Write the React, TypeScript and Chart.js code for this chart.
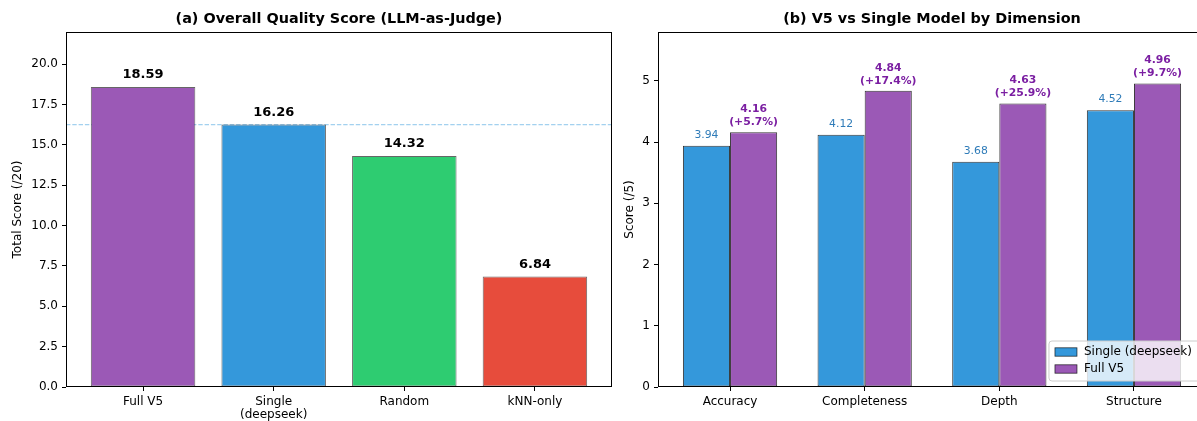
import React, { useEffect, useRef } from "react";
import { Chart, registerables } from "chart.js";

Chart.register(...registerables);
Chart.defaults.font.family = "'DejaVu Sans', 'Liberation Sans', sans-serif";
Chart.defaults.color = "#000";

// ---------- data ----------
const overallCategories: string[][] = [["Full V5"], ["Single", "(deepseek)"], ["Random"], ["kNN-only"]];
const overallScores = [18.59, 16.26, 14.32, 6.84];
const overallColors = ["#9b59b6", "#3498db", "#2ecc71", "#e74c3c"];
const overallTicks = [0, 2.5, 5, 7.5, 10, 12.5, 15, 17.5, 20];
const singleReference = 16.26;

const dimensions = ["Accuracy", "Completeness", "Depth", "Structure"];
const singleScores = [3.94, 4.12, 3.68, 4.52];
const fullScores = [4.16, 4.84, 4.63, 4.96];
const gainLabels = ["(+5.7%)", "(+17.4%)", "(+25.9%)", "(+9.7%)"];
const dimTicks = [0, 1, 2, 3, 4, 5];

const FONT = "'DejaVu Sans', 'Liberation Sans', sans-serif";

const framePlugin = {
  id: "frame",
  afterDatasetsDraw(chart: any) {
    const { ctx, chartArea: a } = chart;
    ctx.save();
    ctx.strokeStyle = "#000";
    ctx.lineWidth = 1;
    ctx.strokeRect(Math.round(a.left) + 0.5, Math.round(a.top) + 0.5, Math.round(a.right - a.left) - 1, Math.round(a.bottom - a.top) - 1);
    ctx.restore();
  },
};

function axisCommon(tickFontSize: number) {
  return {
    offset: false,
    grid: { offset: false, drawOnChartArea: false, drawTicks: true, tickLength: 4, color: "#000", lineWidth: 1 },
    border: { display: false },
    ticks: { font: { size: tickFontSize, family: FONT }, color: "#000", padding: 4 },
  };
}

export default function App() {
  const leftRef = useRef<HTMLCanvasElement>(null);
  const rightRef = useRef<HTMLCanvasElement>(null);

  useEffect(() => {
    const refLinePlugin = {
      id: "refLine",
      beforeDatasetsDraw(chart: any) {
        const { ctx, chartArea: a, scales } = chart;
        const y = scales.y.getPixelForValue(singleReference);
        ctx.save();
        ctx.strokeStyle = "rgba(52,152,219,0.45)";
        ctx.lineWidth = 1.1;
        ctx.setLineDash([4.4, 1.9]);
        ctx.beginPath();
        ctx.moveTo(a.left, y);
        ctx.lineTo(a.right, y);
        ctx.stroke();
        ctx.restore();
      },
    };
    const leftLabels = {
      id: "leftLabels",
      afterDatasetsDraw(chart: any) {
        const { ctx } = chart;
        const meta = chart.getDatasetMeta(0);
        ctx.save();
        ctx.font = `bold 13px ${FONT}`;
        ctx.fillStyle = "#000";
        ctx.textAlign = "center";
        ctx.textBaseline = "middle";
        meta.data.forEach((el: any, i: number) => {
          ctx.fillText(overallScores[i].toFixed(2), el.x, el.y - 12);
        });
        ctx.restore();
      },
    };

    const left = new Chart(leftRef.current!, {
      type: "bar",
      data: {
        datasets: [
          {
            label: "Total Score",
            data: overallScores.map((v, i) => ({ x: i, y: v })),
            backgroundColor: overallColors,
            borderColor: "rgba(0,0,0,0.6)",
            borderWidth: 1,
            borderSkipped: false,
            barPercentage: 0.8,
            categoryPercentage: 1,
          },
        ],
      },
      options: {
        responsive: false,
        animation: false,
        layout: { padding: { left: 0, right: 18, top: 0, bottom: 0 } },
        plugins: {
          legend: { display: false },
          tooltip: { enabled: false },
          title: {
            display: true,
            text: "(a) Overall Quality Score (LLM-as-Judge)",
            fullSize: false,
            font: { size: 14.4, weight: "bold", family: FONT },
            color: "#000",
            padding: { top: 10.4, bottom: 4.3 },
          },
        },
        scales: {
          x: {
            type: "linear",
            min: -0.59,
            max: 3.59,
            ...axisCommon(12),
            ticks: {
              ...axisCommon(12).ticks,
              font: { size: 12, family: FONT, lineHeight: 1.1 },
              autoSkip: false,
              maxRotation: 0,
              callback: (v: any) => overallCategories[v as number],
            },
            afterBuildTicks: (s: any) => {
              s.ticks = overallCategories.map((_, i) => ({ value: i }));
            },
            afterFit: (s: any) => {
              s.height = 34;
            },
          },
          y: {
            type: "linear",
            min: 0,
            max: 22,
            ...axisCommon(12),
            ticks: {
              ...axisCommon(12).ticks,
              includeBounds: false,
              callback: (v: any) => Number(v).toFixed(1),
            },
            afterBuildTicks: (s: any) => {
              s.ticks = overallTicks.map((v) => ({ value: v }));
            },
            title: {
              display: true,
              text: "Total Score (/20)",
              font: { size: 12, family: FONT },
              color: "#000",
              padding: { top: 10.8, bottom: 0 },
            },
            afterFit: (s: any) => {
              s.width = 66;
            },
          },
        },
      } as any,
      plugins: [refLinePlugin, leftLabels, framePlugin],
    });

    const rightLabels = {
      id: "rightLabels",
      afterDatasetsDraw(chart: any) {
        const { ctx } = chart;
        const m0 = chart.getDatasetMeta(0);
        const m1 = chart.getDatasetMeta(1);
        ctx.save();
        ctx.textAlign = "center";
        ctx.textBaseline = "middle";
        ctx.font = `10.8px ${FONT}`;
        ctx.fillStyle = "#2e7bb8";
        m0.data.forEach((el: any, i: number) => {
          ctx.fillText(singleScores[i].toFixed(2), el.x, el.y - 11);
        });
        ctx.font = `bold 10.8px ${FONT}`;
        ctx.fillStyle = "#7b1fa2";
        m1.data.forEach((el: any, i: number) => {
          ctx.fillText(fullScores[i].toFixed(2), el.x, el.y - 23);
          ctx.fillText(gainLabels[i], el.x, el.y - 10);
        });
        ctx.restore();
      },
    };
    const legendPlugin = {
      id: "boxLegend",
      afterDraw(chart: any) {
        const { ctx, chartArea: a } = chart;
        const ds = chart.data.datasets;
        ctx.save();
        ctx.font = `12px ${FONT}`;
        const textW = Math.max(...ds.map((d: any) => ctx.measureText(d.label).width));
        const padL = 6, handle = 22, gap = 7, padR = 8;
        const w = padL + handle + gap + textW + padR;
        const h = 40;
        const right = a.right - 6;
        const bottom = a.bottom - 6;
        const x0 = right - w;
        const y0 = bottom - h;
        const r = 3;
        ctx.beginPath();
        ctx.moveTo(x0 + r, y0);
        ctx.lineTo(x0 + w - r, y0);
        ctx.arcTo(x0 + w, y0, x0 + w, y0 + r, r);
        ctx.lineTo(x0 + w, y0 + h - r);
        ctx.arcTo(x0 + w, y0 + h, x0 + w - r, y0 + h, r);
        ctx.lineTo(x0 + r, y0 + h);
        ctx.arcTo(x0, y0 + h, x0, y0 + h - r, r);
        ctx.lineTo(x0, y0 + r);
        ctx.arcTo(x0, y0, x0 + r, y0, r);
        ctx.closePath();
        ctx.fillStyle = "rgba(255,255,255,0.8)";
        ctx.fill();
        ctx.strokeStyle = "#cccccc";
        ctx.lineWidth = 1;
        ctx.stroke();
        ds.forEach((d: any, i: number) => {
          const cy = y0 + 11 + i * 17;
          ctx.fillStyle = d.backgroundColor;
          ctx.fillRect(x0 + padL, cy - 4.2, handle, 8.4);
          ctx.strokeStyle = "rgba(0,0,0,0.75)";
          ctx.lineWidth = 0.8;
          ctx.strokeRect(x0 + padL, cy - 4.2, handle, 8.4);
          ctx.fillStyle = "#000";
          ctx.textAlign = "left";
          ctx.textBaseline = "middle";
          ctx.fillText(d.label, x0 + padL + handle + gap, cy);
        });
        ctx.restore();
      },
    };

    const right = new Chart(rightRef.current!, {
      type: "bar",
      data: {
        datasets: [
          {
            label: "Single (deepseek)",
            data: singleScores.map((v, i) => ({ x: i, y: v })),
            backgroundColor: "#3498db",
            borderColor: "rgba(0,0,0,0.8)",
            borderWidth: 1,
            borderSkipped: false,
            barPercentage: 1,
            categoryPercentage: 0.7,
          },
          {
            label: "Full V5",
            data: fullScores.map((v, i) => ({ x: i, y: v })),
            backgroundColor: "#9b59b6",
            borderColor: "rgba(0,0,0,0.8)",
            borderWidth: 1,
            borderSkipped: false,
            barPercentage: 1,
            categoryPercentage: 0.7,
          },
        ],
      },
      options: {
        responsive: false,
        animation: false,
        layout: { padding: { left: 0, right: 14, top: 0, bottom: 0 } },
        plugins: {
          legend: { display: false },
          tooltip: { enabled: false },
          title: {
            display: true,
            text: "(b) V5 vs Single Model by Dimension",
            fullSize: false,
            font: { size: 14.4, weight: "bold", family: FONT },
            color: "#000",
            padding: { top: 10.4, bottom: 4.3 },
          },
        },
        scales: {
          x: {
            type: "linear",
            min: -0.535,
            max: 3.535,
            ...axisCommon(12),
            ticks: {
              ...axisCommon(12).ticks,
              autoSkip: false,
              maxRotation: 0,
              callback: (v: any) => dimensions[v as number],
            },
            afterBuildTicks: (s: any) => {
              s.ticks = dimensions.map((_, i) => ({ value: i }));
            },
            afterFit: (s: any) => {
              s.height = 34;
            },
          },
          y: {
            type: "linear",
            min: 0,
            max: 5.8,
            ...axisCommon(12),
            ticks: {
              ...axisCommon(12).ticks,
              includeBounds: false,
              callback: (v: any) => String(v),
            },
            afterBuildTicks: (s: any) => {
              s.ticks = dimTicks.map((v) => ({ value: v }));
            },
            title: {
              display: true,
              text: "Score (/5)",
              font: { size: 12, family: FONT },
              color: "#000",
              padding: { top: 2.8, bottom: 0 },
            },
            afterFit: (s: any) => {
              s.width = 38;
            },
          },
        },
      } as any,
      plugins: [rightLabels, framePlugin, legendPlugin],
    });

    return () => {
      left.destroy();
      right.destroy();
    };
  }, []);

  return (
    <div style={{ position: "absolute", left: 0, top: 0, width: 1197, height: 421, overflow: "hidden", background: "#fff" }}>
      <canvas ref={leftRef} width={630} height={421} style={{ position: "absolute", left: 0, top: 0, display: "block" }} />
      <canvas ref={rightRef} width={600} height={421} style={{ position: "absolute", left: 620, top: 0, display: "block" }} />
    </div>
  );
}
